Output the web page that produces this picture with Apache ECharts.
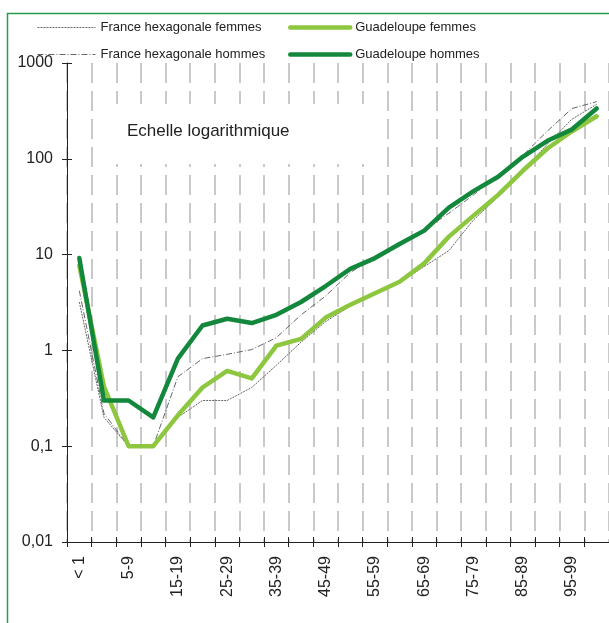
<!DOCTYPE html>
<html>
<head>
<meta charset="utf-8">
<script src="https://cdn.jsdelivr.net/npm/echarts@6/dist/echarts.min.js"></script>
<style>
html,body{margin:0;padding:0;background:#fff;}
#chart{width:609px;height:623px;}
</style>
</head>
<body>
<div id="chart"></div>
<script>
var categories = ['< 1','1-4','5-9','10-14','15-19','20-24','25-29','30-34','35-39','40-44','45-49','50-54','55-59','60-64','65-69','70-74','75-79','80-84','85-89','90-94','95-99','100 +'];
var guadHommes   = [9.2, 0.30, 0.30, 0.20, 0.82, 1.82, 2.14, 1.93, 2.35, 3.2, 4.7, 7.1, 9.2, 12.9, 17.8, 31, 46, 65, 105, 154, 203, 335];
var guadFemmes   = [7.7, 0.42, 0.10, 0.10, 0.21, 0.41, 0.61, 0.51, 1.12, 1.32, 2.2, 3.0, 3.95, 5.2, 8.1, 15.4, 25.5, 42, 75, 128, 194, 278];
var franceHommes = [4.2, 0.22, 0.10, 0.10, 0.53, 0.82, 0.91, 1.02, 1.36, 2.35, 3.7, 6.5, 9.5, 13, 18, 27, 42, 68, 108, 195, 335, 395];
var franceFemmes = [3.2, 0.20, 0.10, 0.10, 0.20, 0.30, 0.30, 0.41, 0.70, 1.22, 2.0, 2.9, 4.0, 5.1, 7.5, 11, 23, 40, 75, 142, 260, 370];
var yTickLabels = ['0,01','0,1','1','10','100','1000'];
var seriesNames = ['France hexagonale femmes','France hexagonale hommes','Guadeloupe femmes','Guadeloupe hommes'];

var chart = echarts.init(document.getElementById('chart'), null, {renderer:'canvas'});
var FONT = 'Liberation Sans, Arial, sans-serif';
var axisColor = '#222';
var grid = {left:67, top:63, right:-2, bottom:81};
var legendText = {fontFamily:FONT, fontSize:13, color:'#222'};

var option = {
  animation:false,
  backgroundColor:'#fff',
  grid: grid,
  legend: [
    {left:32, top:16, orient:'vertical', itemWidth:58, itemHeight:14, itemGap:14,
     itemStyle:{opacity:0}, lineStyle:{width:'inherit'},
     data:[seriesNames[0], seriesNames[1]], textStyle:legendText},
    {left:283, top:16, orient:'vertical', itemWidth:60, itemHeight:14, itemGap:14,
     itemStyle:{opacity:0}, lineStyle:{width:4.5},
     data:[seriesNames[2], seriesNames[3]], textStyle:legendText}
  ],
  xAxis: [
    {type:'category', data:categories, boundaryGap:true,
     axisLine:{show:true, lineStyle:{color:axisColor, width:1}},
     axisTick:{show:true, interval:0, length:5, lineStyle:{color:axisColor}},
     axisLabel:{interval:1, rotate:90, margin:14, fontFamily:FONT, fontSize:16, color:axisColor},
     splitLine:{show:true, interval:0, lineStyle:{color:'#c9c9c9', width:2, type:[20,8]}}},
    {type:'category', data:categories, boundaryGap:true, position:'bottom',
     axisLine:{show:false},
     axisTick:{show:true, inside:true, interval:0, length:5, lineStyle:{color:axisColor}},
     axisLabel:{show:false}, splitLine:{show:false}}
  ],
  yAxis: [
    {type:'log', logBase:10, min:0.01, max:1000,
     axisLine:{show:true, lineStyle:{color:axisColor, width:1}},
     axisTick:{show:true, length:5, lineStyle:{color:axisColor}},
     minorTick:{show:false},
     axisLabel:{margin:14, fontFamily:FONT, fontSize:16, color:axisColor,
       formatter:function(v){ var k=Math.round(Math.log(v)/Math.LN10)+2; return yTickLabels[k]; }},
     splitLine:{show:false}},
    {type:'log', logBase:10, min:0.01, max:1000, position:'left',
     axisLine:{show:false},
     axisTick:{show:true, inside:true, length:5, lineStyle:{color:axisColor}},
     axisLabel:{show:false}, splitLine:{show:false}}
  ],
  series: [
    {name:seriesNames[0], type:'line', data:franceFemmes, symbol:'none', z:3,
     lineStyle:{color:'#555', width:0.9, type:[2,1]}, itemStyle:{color:'#555'}},
    {name:seriesNames[1], type:'line', data:franceHommes, symbol:'none', z:3,
     lineStyle:{color:'#555', width:0.9, type:[6,2,1,2]}, itemStyle:{color:'#555'}},
    {name:seriesNames[2], type:'line', data:guadFemmes, symbol:'none', z:4,
     lineStyle:{color:'#8dc63f', width:4.5, join:'round', cap:'round'}, itemStyle:{color:'#8dc63f'}},
    {name:seriesNames[3], type:'line', data:guadHommes, symbol:'none', z:5,
     lineStyle:{color:'#13883c', width:4.5, join:'round', cap:'round'}, itemStyle:{color:'#13883c'}}
  ],
  graphic: [
    {type:'rect', z:100, silent:true, shape:{x:7.5, y:13.5, width:700, height:700},
     style:{fill:null, stroke:'#2a9d4c', lineWidth:1.5}},
    {type:'rect', z:1, silent:true, shape:{x:101, y:104, width:277, height:60},
     style:{fill:'#fff'}},
    {type:'text', z:2, silent:true, x:127, y:131,
     style:{text:'Echelle logarithmique', font:'17px ' + FONT, fill:'#222', textVerticalAlign:'middle', verticalAlign:'middle'}}
  ]
};
chart.setOption(option);
</script>
</body>
</html>
